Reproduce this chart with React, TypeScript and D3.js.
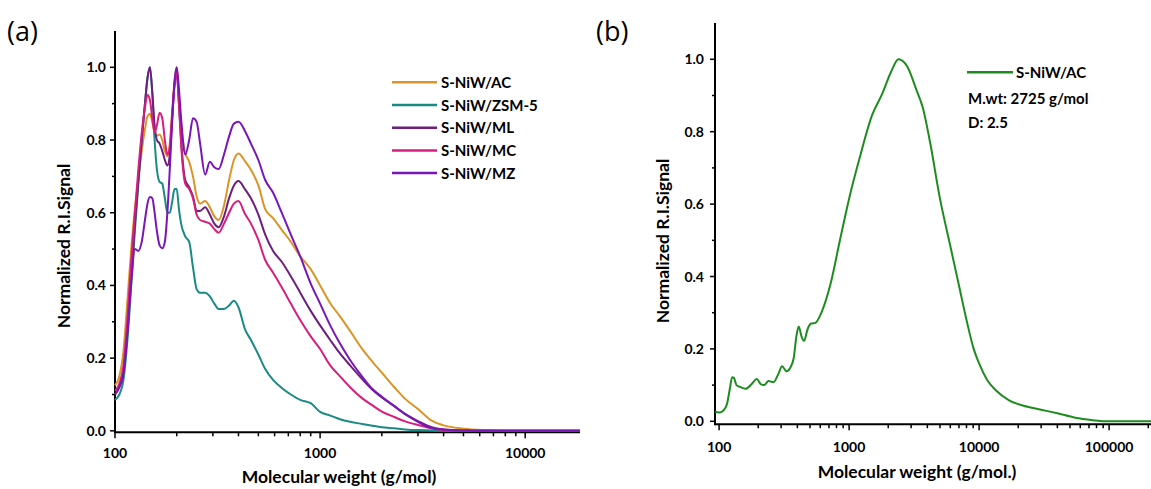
import React from 'react';
import * as d3 from 'd3';

// panel (a): shared molecular-weight grid, one signal array per catalyst
const mwGrid = [100, 105, 110, 115, 120, 125, 130, 135, 140, 144,
  148, 152, 156, 160, 165, 170, 175, 180, 185, 190,
  195, 200, 205, 210, 220, 230, 240, 250, 260, 275,
  290, 305, 320, 340, 360, 380, 400, 430, 460, 500,
  540, 590, 650, 720, 800, 900, 1000, 1120, 1250, 1400,
  1600, 1800, 2000, 2300, 2600, 3000, 3500, 4000, 5000, 6500, 9000, 18500];

const acSignal = [0.125, 0.15, 0.22, 0.36, 0.50, 0.61, 0.69, 0.77, 0.83, 0.865,
  0.872, 0.85, 0.82, 0.812, 0.815, 0.80, 0.77, 0.755, 0.79, 0.88,
  0.96, 1.0, 0.92, 0.84, 0.765, 0.74, 0.70, 0.645, 0.625, 0.632,
  0.615, 0.59, 0.58, 0.62, 0.69, 0.745, 0.763, 0.742, 0.718, 0.675,
  0.61, 0.585, 0.553, 0.52, 0.48, 0.445, 0.40, 0.351, 0.315, 0.275,
  0.226, 0.19, 0.16, 0.12, 0.088, 0.06, 0.028, 0.015, 0.006, 0.002, 0, 0];

const zsmSignal = [0.085, 0.10, 0.14, 0.25, 0.40, 0.55, 0.68, 0.80, 0.90, 0.97,
  1.0, 0.93, 0.80, 0.72, 0.685, 0.68, 0.64, 0.60, 0.60, 0.63,
  0.665, 0.665, 0.61, 0.57, 0.535, 0.52, 0.45, 0.39, 0.38, 0.38,
  0.37, 0.35, 0.335, 0.335, 0.345, 0.358, 0.34, 0.28, 0.25, 0.21,
  0.17, 0.14, 0.118, 0.10, 0.085, 0.076, 0.052, 0.042, 0.032, 0.025,
  0.019, 0.014, 0.01, 0.007, 0.004, 0.002, 0.001, 0, 0, 0, 0, 0];

const mlSignal = [0.10, 0.12, 0.16, 0.28, 0.43, 0.57, 0.69, 0.80, 0.90, 0.97,
  1.0, 0.93, 0.84, 0.80, 0.79, 0.77, 0.745, 0.73, 0.76, 0.86,
  0.95, 0.98, 0.90, 0.80, 0.69, 0.67, 0.645, 0.605, 0.605, 0.615,
  0.595, 0.57, 0.56, 0.59, 0.64, 0.675, 0.687, 0.665, 0.64, 0.595,
  0.54, 0.495, 0.465, 0.425, 0.38, 0.33, 0.29, 0.25, 0.213, 0.18,
  0.143, 0.113, 0.092, 0.068, 0.046, 0.027, 0.01, 0.004, 0.001, 0, 0, 0];

const mcSignal = [0.11, 0.13, 0.18, 0.31, 0.47, 0.60, 0.72, 0.82, 0.89, 0.924,
  0.91, 0.86, 0.82, 0.84, 0.875, 0.86, 0.80, 0.76, 0.78, 0.87,
  0.95, 0.99, 0.90, 0.79, 0.68, 0.665, 0.64, 0.595, 0.58, 0.575,
  0.57, 0.555, 0.545, 0.57, 0.60, 0.625, 0.632, 0.597, 0.57, 0.525,
  0.47, 0.435, 0.395, 0.35, 0.305, 0.26, 0.225, 0.18, 0.15, 0.12,
  0.09, 0.07, 0.053, 0.038, 0.026, 0.016, 0.007, 0.002, 0, 0, 0, 0];

const mzSignal = [0.10, 0.12, 0.16, 0.27, 0.41, 0.50, 0.495, 0.52, 0.58, 0.625,
  0.643, 0.64, 0.60, 0.55, 0.51, 0.502, 0.52, 0.60, 0.72, 0.85,
  0.96, 1.0, 0.94, 0.86, 0.76, 0.80, 0.86, 0.85, 0.79, 0.705,
  0.74, 0.725, 0.72, 0.76, 0.81, 0.845, 0.85, 0.825, 0.79, 0.745,
  0.69, 0.655, 0.60, 0.54, 0.48, 0.405, 0.35, 0.29, 0.24, 0.195,
  0.15, 0.115, 0.094, 0.068, 0.046, 0.025, 0.007, 0.004, 0.001, 0, 0, 0];

const seriesNames = ['S-NiW/AC', 'S-NiW/ZSM-5', 'S-NiW/ML', 'S-NiW/MC', 'S-NiW/MZ'];
const seriesSignals = [acSignal, zsmSignal, mlSignal, mcSignal, mzSignal];
const seriesColors = ['#DB9425', '#1A8A84', '#6E1E7E', '#D81E7C', '#7A16B8'];

// panel (b): S-NiW/AC alone
const bMw = [93, 100, 108, 115, 121, 126, 130, 136, 145, 160,
  178, 195, 210, 222, 240, 262, 285, 305, 330, 355,
  375, 395, 410, 430, 450, 480, 510, 550, 620, 720,
  850, 1000, 1200, 1500, 1800, 2100, 2400, 2800, 3300, 3700,
  4200, 5000, 6000, 7000, 8000, 9000, 10000, 11500, 13500, 17000,
  22000, 30000, 40000, 55000, 75000, 90000, 210000];
const bSignal = [0.027, 0.024, 0.03, 0.048, 0.09, 0.122, 0.12, 0.10, 0.095, 0.09,
  0.103, 0.117, 0.102, 0.10, 0.111, 0.108, 0.13, 0.152, 0.138, 0.15,
  0.175, 0.24, 0.262, 0.235, 0.222, 0.255, 0.27, 0.272, 0.305, 0.38,
  0.50, 0.615, 0.725, 0.845, 0.905, 0.965, 1.0, 0.98, 0.915, 0.865,
  0.77, 0.615, 0.485, 0.375, 0.28, 0.205, 0.16, 0.115, 0.085, 0.058,
  0.043, 0.032, 0.022, 0.01, 0.003, 0, 0];
const bName = 'S-NiW/AC';
const bNotes = ['M.wt: 2725 g/mol', 'D: 2.5'];
const bColor = '#1E8C1E';

const yMajor = [0, 0.2, 0.4, 0.6, 0.8, 1.0];
const yMinor = [0.1, 0.3, 0.5, 0.7, 0.9];

const FONT = 'Lato, "Open Sans", sans-serif';
const fmtY = d3.format('.1f');

const isDecade = (t: number) => Math.abs(Math.log10(t) - Math.round(Math.log10(t))) < 1e-9;

function Axes({ x, y, yLabelGap, xLabelDy, xTitle, xTitleX, xTitleY, yTitleX, yTitleY }: any) {
  const [d0, d1] = x.domain();
  const [r0, r1] = x.range();
  const yb = y(y.domain()[0]);
  const yt = y(y.domain()[1]);
  const xt = x.ticks().filter((t: number) => t >= d0 * 0.999 && t <= d1);
  return (
    <g fontFamily={FONT} fontWeight={700} fill="#000">
      {xt.map((t: number) => (
        <line key={'xt' + t} x1={x(t)} x2={x(t)} y1={yb} y2={yb + (isDecade(t) ? 6 : 4)} stroke="#000" strokeWidth={1.5} />
      ))}
      {xt.filter(isDecade).map((t: number) => (
        <text key={'xl' + t} x={x(t)} y={yb + xLabelDy} textAnchor="middle" fontSize={14}>{t}</text>
      ))}
      {yMajor.map(v => (
        <g key={'ym' + v}>
          <line x1={r0 - 5} x2={r0} y1={y(v)} y2={y(v)} stroke="#000" strokeWidth={1.5} />
          <text x={r0 - yLabelGap} y={y(v) + 5} textAnchor="end" fontSize={14}>{fmtY(v)}</text>
        </g>
      ))}
      {yMinor.map(v => (
        <line key={'yn' + v} x1={r0 - 3} x2={r0} y1={y(v)} y2={y(v)} stroke="#000" strokeWidth={1.5} />
      ))}
      <line x1={r0} x2={r1} y1={yb} y2={yb} stroke="#000" strokeWidth={2} />
      <line x1={r0} x2={r0} y1={yb + 1} y2={yt} stroke="#000" strokeWidth={2} />
      <text x={xTitleX} y={xTitleY} textAnchor="middle" fontSize={17.5}>{xTitle}</text>
      <text transform={`translate(${yTitleX},${yTitleY}) rotate(-90)`} textAnchor="middle" fontSize={17.5}>Normalized R.I.Signal</text>
    </g>
  );
}

export default function App() {
  const xA = d3.scaleLog().domain([100, 18500]).range([115, 580]);
  const yA = d3.scaleLinear().domain([-0.004, 1.1]).range([432.3, 30.95]);
  const xB = d3.scaleLog().domain([93, 210000]).range([715, 1151]);
  const yB = d3.scaleLinear().domain([-0.008, 1.1]).range([424.2, 23.1]);

  const lineA = d3.line<number>()
    .x((_, i) => xA(mwGrid[i]))
    .y(d => yA(d))
    .curve(d3.curveMonotoneX);
  const lineB = d3.line<number>()
    .x((_, i) => xB(bMw[i]))
    .y(d => yB(d))
    .curve(d3.curveMonotoneX);

  const legendY = d3.scaleLinear().domain([0, 1]).range([82.3, 105]);

  return (
    <svg width={1151} height={489} style={{ position: 'absolute', left: 0, top: 0, background: '#fff' }}>
      <rect width={1151} height={489} fill="#fff" />
      <text x={7} y={41} fontFamily='"Open Sans", sans-serif' fontSize={27}>(a)</text>
      <text x={596} y={41} fontFamily='"Open Sans", sans-serif' fontSize={27}>(b)</text>

      <Axes x={xA} y={yA} yLabelGap={9} xLabelDy={26} xTitle="Molecular weight (g/mol)"
        xTitleX={339} xTitleY={483} yTitleX={70} yTitleY={246} />
      {seriesSignals.map((s, k) => (
        <path key={seriesNames[k]} d={lineA(s) || ''} fill="none" stroke={seriesColors[k]}
          strokeWidth={2} strokeLinejoin="round" />
      ))}
      <g fontFamily={FONT} fontWeight={700} fontSize={15}>
        {seriesNames.map((n, k) => (
          <g key={n}>
            <line x1={392} x2={437} y1={legendY(k)} y2={legendY(k)} stroke={seriesColors[k]} strokeWidth={2.5} />
            <text x={441} y={legendY(k) + 5.5}>{n}</text>
          </g>
        ))}
      </g>

      <Axes x={xB} y={yB} yLabelGap={11} xLabelDy={28} xTitle="Molecular weight (g/mol.)"
        xTitleX={917} xTitleY={478} yTitleX={669} yTitleY={241} />
      <path d={lineB(bSignal) || ''} fill="none" stroke={bColor} strokeWidth={2} strokeLinejoin="round" />
      <g fontFamily={FONT} fontWeight={700} fontSize={15}>
        <line x1={967} x2={1013} y1={72.3} y2={72.3} stroke={bColor} strokeWidth={2.5} />
        <text x={1016} y={77.8}>{bName}</text>
        {bNotes.map((t, i) => (
          <text key={t} x={968} y={103.8 + i * 24.4}>{t}</text>
        ))}
      </g>
    </svg>
  );
}
